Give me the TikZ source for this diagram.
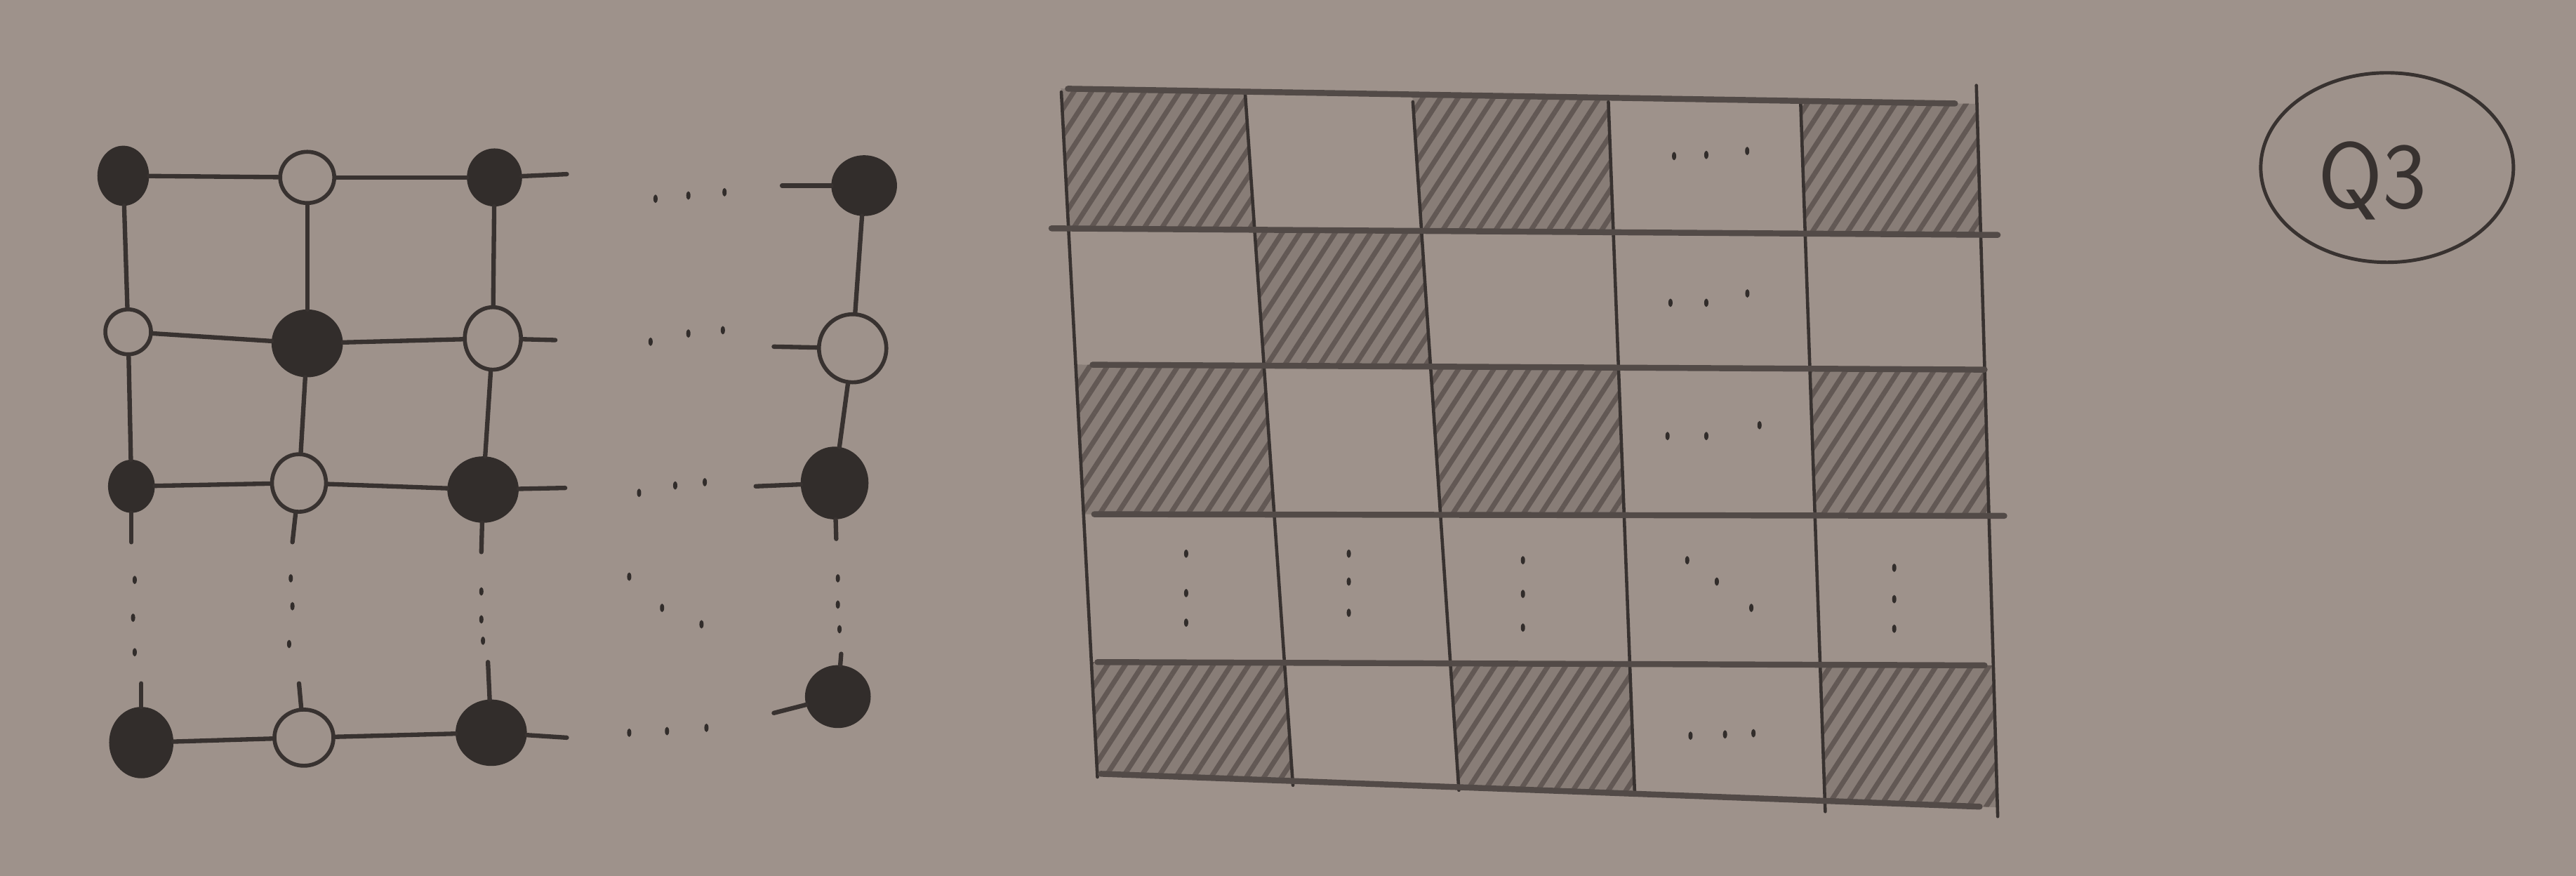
\documentclass[tikz,border=0pt]{standalone}
\usepackage{fontspec}
\usetikzlibrary{shapes.geometric,patterns.meta}
\definecolor{paper}{RGB}{158,146,139}
\definecolor{pencil}{RGB}{56,50,48}
\definecolor{lead}{RGB}{50,45,43}
\definecolor{hatchbg}{RGB}{136,125,119}
\definecolor{hatchln}{RGB}{98,88,84}
\definecolor{rulegray}{RGB}{82,74,71}
\begin{document}
\begin{tikzpicture}[x=0.023406cm,y=-0.023406cm,
  bullet/.style={ellipse, draw=lead, fill=lead, line width=1.6pt, inner sep=0pt},
  hollow/.style={ellipse, draw=pencil, line width=1.6pt, inner sep=0pt},
  sz/.style 2 args={minimum width=#1cm, minimum height=#2cm},
  edge/.style={draw=pencil, line width=1.8pt, line cap=round},
  vline/.style={draw=pencil, line width=1.3pt, line cap=round},
  hline/.style={draw=rulegray, line width=2.4pt, line cap=round},
  shadecell/.style={fill=hatchbg, postaction={pattern={Lines[angle=57,distance=6pt,line width=2pt]}, pattern color=hatchln}}]
\fill[paper] (0,0) rectangle (1568,533);
\useasboundingbox (0,0) rectangle (1568,533);

% ---------------- left lattice ----------------
\node[bullet, sz={0.68}{0.80}] (a11) at (75,107) {};
\node[hollow, sz={0.77}{0.73}] (a12) at (187,108) {};
\node[bullet, sz={0.73}{0.77}] (a13) at (301,108) {};
\node[bullet, sz={0.88}{0.81}] (a15) at (526,113) {};
\node[hollow, sz={0.65}{0.64}] (a21) at (78,202) {};
\node[bullet, sz={0.96}{0.91}] (a22) at (187,209) {};
\node[hollow, sz={0.80}{0.89}] (a23) at (300,206) {};
\node[hollow, sz={0.96}{0.97}] (a25) at (519,212) {};
\node[bullet, sz={0.61}{0.70}] (a31) at (80,296) {};
\node[hollow, sz={0.77}{0.82}] (a32) at (182,294) {};
\node[bullet, sz={0.96}{0.89}] (a33) at (294,298) {};
\node[bullet, sz={0.91}{0.98}] (a35) at (508,294) {};
\node[bullet, sz={0.86}{0.96}] (a51) at (86,452) {};
\node[hollow, sz={0.84}{0.80}] (a52) at (185,449) {};
\node[bullet, sz={0.96}{0.89}] (a53) at (299,446) {};
\node[bullet, sz={0.88}{0.84}] (a55) at (510,424) {};

\coordinate (s13) at (345,106); \coordinate (s15) at (476,113);
\coordinate (s23) at (338,207); \coordinate (s25) at (471,211);
\coordinate (s33) at (344,297); \coordinate (s35) at (460,296);
\coordinate (s53) at (345,449); \coordinate (s55) at (471,434);
\coordinate (d31) at (80,330);  \coordinate (d32) at (178,330);
\coordinate (d33) at (293,336); \coordinate (d35) at (509,328);
\coordinate (u51) at (86,416);  \coordinate (u52) at (182,416);
\coordinate (u53) at (297,403); \coordinate (u55) at (512,398);

\draw[edge] (a11) -- (a12); \draw[edge] (a12) -- (a13); \draw[edge] (a13) -- (s13); \draw[edge] (s15) -- (a15);
\draw[edge] (a21) -- (a22); \draw[edge] (a22) -- (a23); \draw[edge] (a23) -- (s23); \draw[edge] (s25) -- (a25);
\draw[edge] (a31) -- (a32); \draw[edge] (a32) -- (a33); \draw[edge] (a33) -- (s33); \draw[edge] (s35) -- (a35);
\draw[edge] (a51) -- (a52); \draw[edge] (a52) -- (a53); \draw[edge] (a53) -- (s53); \draw[edge] (s55) -- (a55);
\draw[edge] (a11) -- (a21); \draw[edge] (a12) -- (a22); \draw[edge] (a13) -- (a23); \draw[edge] (a15) -- (a25);
\draw[edge] (a21) -- (a31); \draw[edge] (a22) -- (a32); \draw[edge] (a23) -- (a33); \draw[edge] (a25) -- (a35);
\draw[edge] (a31) -- (d31); \draw[edge] (a32) -- (d32); \draw[edge] (a33) -- (d33); \draw[edge] (a35) -- (d35);
\draw[edge] (u51) -- (a51); \draw[edge] (u52) -- (a52); \draw[edge] (u53) -- (a53); \draw[edge] (u55) -- (a55);

% dots of the lattice
\foreach \px/\py in {399/121,419/119,441/117, 396/208,419/203,440/201, 389/300,411/295.5,429/293.5,
  383/446,406/445,430/443, 82/353,81/376,82/397, 177/352,178/369,176/392, 293/360,293/377,294/390,
  383/351,403/370,427/380, 510/352,510/368,511/383}
  \fill[lead] (\px,\py) ellipse[x radius=0.03cm, y radius=0.06cm];

% ---------------- right board ----------------
\coordinate (v0-t) at (646,56);   \coordinate (v0-b) at (668,473);
\coordinate (v1-t) at (758,58);   \coordinate (v1-b) at (787,478);
\coordinate (v2-t) at (860,62);   \coordinate (v2-b) at (888,481);
\coordinate (v3-t) at (979,62);   \coordinate (v3-b) at (995,482);
\coordinate (v4-t) at (1096,62);  \coordinate (v4-b) at (1111,494);
\coordinate (v5-t) at (1203,52);  \coordinate (v5-b) at (1216,497);
\coordinate (h0-l) at (650,54);   \coordinate (h0-r) at (1190,63);
\coordinate (h1-l) at (640,139);  \coordinate (h1-r) at (1216,143);
\coordinate (h2-l) at (665,222);  \coordinate (h2-r) at (1208,225);
\coordinate (h3-l) at (666,313);  \coordinate (h3-r) at (1220,314);
\coordinate (h4-l) at (668,403);  \coordinate (h4-r) at (1208,405);
\coordinate (h5-l) at (670,471);  \coordinate (h5-r) at (1205,491);
\foreach \i in {0,...,5}{
  \foreach \j in {0,...,5}{
    \coordinate (p-\i-\j) at (intersection of v\i-t--v\i-b and h\j-l--h\j-r);
  }
}
\foreach \c/\r/\cc/\rr in {0/0/1/1, 2/0/3/1, 4/0/5/1, 1/1/2/2, 0/2/1/3, 2/2/3/3, 4/2/5/3, 0/4/1/5, 2/4/3/5, 4/4/5/5}
  \path[shadecell] (p-\c-\r) -- (p-\cc-\r) -- (p-\cc-\rr) -- (p-\c-\rr) -- cycle;
\foreach \i in {0,...,5} \draw[vline] (v\i-t) -- (v\i-b);
\foreach \j in {0,...,5} \draw[hline] (h\j-l) -- (h\j-r);

% dots of the board
\foreach \px/\py in {1019/95,1038.6/94.3,1063.5/91.9, 1016.8/184.3,1038.6/184.3,1063.6/178.6,
  1015/265.4,1038.6/265.4,1071/258.8, 1029/447.8,1050/447,1067.3/446.3,
  722/337,722/361,722/379, 821/337,821/354,821/373, 927/341,927/361.5,927/382,
  1027/341,1045/354,1066/370, 1153/345.6,1153/364.7,1153/382.7}
  \fill[lead] (\px,\py) ellipse[x radius=0.03cm, y radius=0.06cm];

% ---------------- Q3 label ----------------
\node[ellipse, draw=pencil, line width=1.4pt, minimum width=3.6cm, minimum height=2.7cm] (ring) at (1453,102) {};
\node[text=pencil, font=\sffamily\fontsize{38}{40}\selectfont] (q3) at (1444,110) {Q3};
\end{tikzpicture}
\end{document}
